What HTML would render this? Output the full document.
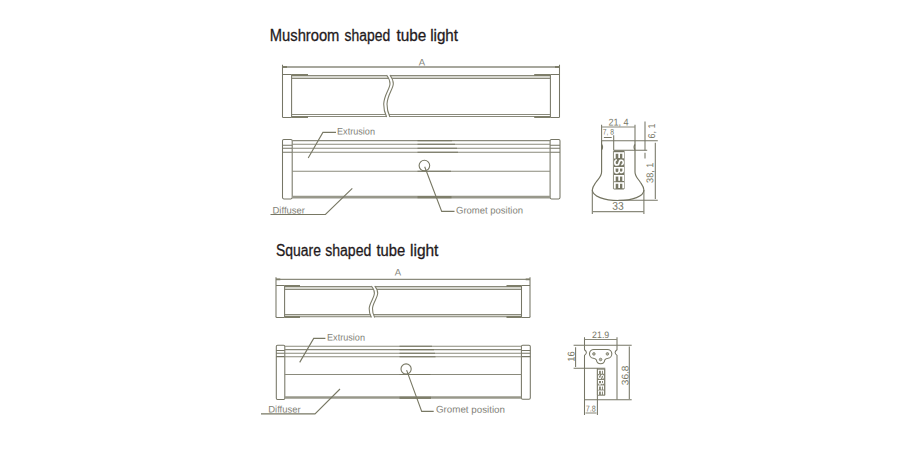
<!DOCTYPE html>
<html lang="en">
<head>
<meta charset="utf-8">
<title>Tube light dimensions</title>
<style>
  html, body { margin: 0; padding: 0; background: #ffffff; }
  body { width: 900px; height: 450px; overflow: hidden; }
  svg { display: block; }
  text { font-family: "Liberation Sans", sans-serif; }
  .title { font-size: 16px; fill: #1f1a1c; stroke: #1f1a1c; stroke-width: 0.3px; }
  .lbl { font-size: 9.5px; fill: #828278; }
  .dim { font-size: 9.8px; fill: #787868; }
  .dims { font-size: 8px; fill: #787868; }
  .ln { stroke: #767666; stroke-width: 1.05; fill: none; }
  .sh { stroke: #737360; stroke-width: 1.15; fill: none; }
  .bl { stroke: #8a8a7c; stroke-width: 1.05; fill: none; }
  .lt { stroke: #a3a392; stroke-width: 1; fill: none; }
  .tk { stroke: #7e7e6a; stroke-width: 1.4; fill: none; }
  .dk { stroke: #787864; stroke-width: 1.1; fill: none; }
  .logo { font-weight: bold; fill: #ffffff; }
  .lbg { fill: #777765; stroke: #777765; stroke-width: 0.5; stroke-linejoin: round; }
  .hole { fill: #b5b5a8; stroke: #7a7a66; stroke-width: 0.8; }
  .cv { stroke: #7d7d6a; stroke-width: 1.1; fill: none; }
  .bt { stroke: #98988b; stroke-width: 2.7; fill: none; }
  .fillb { fill: #d6d6ce; stroke: none; }
</style>
</head>
<body>
<svg width="900" height="450" viewBox="0 0 900 450">
  <defs><filter id="gs" filterUnits="userSpaceOnUse" x="580" y="100" width="80" height="320" color-interpolation-filters="sRGB"><feOffset dx="0" dy="0"/></filter></defs>
  <rect x="0" y="0" width="900" height="450" fill="#ffffff"/>

  <!-- ================= MUSHROOM ================= -->
  <text class="title" y="41.4"><tspan x="269.8" textLength="69.6" lengthAdjust="spacingAndGlyphs">Mushroom</tspan> <tspan x="344.6" textLength="45.6" lengthAdjust="spacingAndGlyphs">shaped</tspan> <tspan x="396.5" textLength="29.8" lengthAdjust="spacingAndGlyphs">tube</tspan> <tspan x="430.2" textLength="27.8" lengthAdjust="spacingAndGlyphs">light</tspan></text>

  <!-- top view -->
  <g id="m-top">
    <text transform="translate(422 65.6) rotate(0.05)" class="lbl" text-anchor="middle">A</text>
    <path class="bl" d="M282.5 67H559.5" style="stroke-width:1.4"/>
    <path class="ln" d="M282.5 64.8V117 M559.5 64.8V117"/>
    <path class="tk" d="M282.5 67H287 M559.5 67H555" style="stroke-width:1.8"/>
    <path class="fillb" d="M292 75.5H386.9L388.8 78.5H292Z M390.2 75.5H550V78.5H392.1Z"/>
    <path class="ln" d="M282.5 74.5H291.5 M550.5 74.5H559.5 M282.5 116.8 Q282.5 117.5 283.3 117.5 H291.5 M550.5 117.5H558.7Q559.5 117.5 559.5 116.8"/>
    <path class="ln" d="M291.6 74.5V117.5 M550.4 74.5V117.5"/>
    <path class="bl" d="M292 75.5H386.9 M292 78.5H388.8 M292 114.5H385.7 M292 116.5H386.4 M390.2 75.5H550 M392.1 78.5H550 M389 114.5H550 M389.7 116.5H550"/>
    <path class="tk" d="M291.5 75H308 M291.5 117H308 M534.2 75H550.5 M534.2 117H550.5" style="stroke-width:1.9"/>
    <path class="cv" d="M386.6 75 C388.4 77.5 390 80.5 390 83.7 C390 88.5 384 95 383.7 104 C383.6 109 385 113.5 386.6 117"/>
    <path class="cv" d="M389.9 75 C391.7 77.5 393.3 80.5 393.3 83.7 C393.3 88.5 387.3 95 387 104 C386.9 109 388.3 113.5 389.9 117"/>
  </g>

  <!-- front view -->
  <g id="m-front">
    <rect class="ln" x="282.5" y="139.4" width="9.7" height="59.5" rx="1.3"/>
    <rect class="ln" x="550.1" y="139.4" width="9.9" height="59.5" rx="1.3"/>
    <path class="ln" d="M282.5 145.3h9.7 M282.5 148.3h9.7 M282.5 152.2h9.7 M550.1 145.3h9.9 M550.1 148.3h9.9 M550.1 152.2h9.9"/>
    <path class="bl" d="M292.2 140.6H550.1 M292.2 144.3H550.1 M292.2 148.3H550.1 M292.2 152.2H550.1 M292.2 171.3H550.1"/>
    <path class="bt" d="M292.2 197.1H550.1"/>
    <path class="dk" d="M417.5 140.6H452 M417.5 144.3H455 M417.5 148.3H457 M417.5 152.2H458 M417.5 171.3H451"/>
    <path class="tk" d="M417.5 197.2H451.5" style="stroke-width:2.2"/>
    <circle class="dk" cx="424.4" cy="165.6" r="5.3"/>
    <path class="dk" d="M308.2 158 L322.9 132.4 H336"/>
    <text transform="translate(337 134.6) rotate(0.05)" class="lbl" textLength="38" lengthAdjust="spacingAndGlyphs">Extrusion</text>
    <path class="dk" d="M270.5 214.5 H325.4 L352.3 188.4"/>
    <text transform="translate(272.5 213.4) rotate(0.05)" class="lbl" textLength="32.5" lengthAdjust="spacingAndGlyphs">Diffuser</text>
    <path class="dk" d="M424.7 166.7 L441.7 211.4 H454.5"/>
    <text transform="translate(456 213.4) rotate(0.05)" class="lbl" textLength="67" lengthAdjust="spacingAndGlyphs">Gromet position</text>
  </g>

  <!-- cross section -->
  <g id="m-sec">
    <text transform="translate(608.4 125.5) rotate(0.05)" class="dim" textLength="20.3" lengthAdjust="spacingAndGlyphs">21, 4</text>
    <path class="ln" d="M601.6 124.7V141 M635 124.7V141"/>
    <path class="bl" d="M601.6 127H635"/>
    <text transform="translate(602.8 134.4) rotate(0.05)" class="dims" textLength="11.2" lengthAdjust="spacingAndGlyphs">7, 8</text>
    <path class="ln" d="M603.9 137.4H611.7 M613.7 135.3V150.3 M613.7 150.3H647.2"/>
    <path class="ln" d="M601.6 140.8H657.8"/>
    <path class="ln" d="M601.6 144.4 Q603.6 147.2 601.6 150 M635 144.4 Q633 147.2 635 150"/>
    <path class="sh" d="M601.6 141 V171.7 C601.6 176.5 598.2 178.8 596 182.2 C594.3 184.8 592.3 187 592.3 190 C592.3 193 595.5 195.8 600 197.6 C606 199.9 612 200.5 618.3 200.5 C624.6 200.5 630.5 199.9 636.5 197.6 C641 195.8 643.9 193 643.9 190 C643.9 187 642 184.8 640.3 182.2 C638.2 178.8 635 176.5 635 172 V141"/>
    <path class="ln" d="M592.3 190V214 M643.9 190V214"/>
    <path class="bl" d="M592.3 211.6H643.9" style="stroke-width:1.3"/>
    <path class="ln" d="M618.3 200.3H657.8"/>
    <path class="ln" d="M645 121.4V150.5 M645 152.8V158.6 M655.3 142.8V199"/>
    <text transform="translate(612.3 209.8) rotate(0.05)" class="dim" textLength="11.5" lengthAdjust="spacingAndGlyphs" style="font-size:11.2px">33</text>
    <text class="dim" transform="translate(655 138.6) rotate(-89.95)" textLength="15" lengthAdjust="spacingAndGlyphs">6, 1</text>
    <text class="dim" transform="translate(653.2 182.9) rotate(-89.95)" textLength="20.3" lengthAdjust="spacingAndGlyphs">38, 1</text>
    <g filter="url(#gs)"><rect class="lbg" x="613.4" y="150.8" width="10.9" height="38.4" rx="0.8"/><text class="logo" transform="translate(613.9 151.4) rotate(90)" textLength="37.6" lengthAdjust="spacingAndGlyphs" style="font-size:14px">ESBEE</text></g>
  </g>

  <!-- ================= SQUARE ================= -->
  <text class="title" y="256.4"><tspan x="276" textLength="44.9" lengthAdjust="spacingAndGlyphs">Square</tspan> <tspan x="325.2" textLength="46.1" lengthAdjust="spacingAndGlyphs">shaped</tspan> <tspan x="376.5" textLength="28.7" lengthAdjust="spacingAndGlyphs">tube</tspan> <tspan x="410" textLength="28.4" lengthAdjust="spacingAndGlyphs">light</tspan></text>

  <g id="s-top">
    <text transform="translate(398 275.6) rotate(0.05)" class="lbl" text-anchor="middle">A</text>
    <path class="bl" d="M276 279.4H530" style="stroke-width:1.3"/>
    <path class="ln" d="M276 277.2V317 M530 277.2V317"/>
    <path class="tk" d="M276 279.4H280.3 M530 279.4H525.7" style="stroke-width:1.8"/>
    <path class="fillb" d="M285 286.5H371.7L373.6 289.5H285Z M375 286.5H521V289.5H376.9Z M285 314.5H370.4L371.3 317H285Z M373.7 314.5H521V317H374.6Z"/>
    <path class="ln" d="M276 285.5H284.6 M521.5 285.5H530 M276 316.8 Q276 317.5 276.8 317.5 H284.6 M521.5 317.5H529.2Q530 317.5 530 316.8"/>
    <path class="ln" d="M284.6 285.5V317.5 M521.5 285.5V317.5"/>
    <path class="bl" d="M285 286.5H371.7 M285 289.5H373.6 M285 314.5H370.4 M285 316.8H371.2 M375 286.5H521 M376.9 289.5H521 M373.7 314.5H521 M374.5 316.8H521"/>
    <path class="tk" d="M284.6 286H300 M284.6 317H300 M506.5 286H521.5 M506.5 317H521.5" style="stroke-width:1.9"/>
    <path class="cv" d="M371.4 286 C373 288 374.6 290.5 374.4 293.5 C374.2 298 369.4 303 369.2 308.6 C369.1 312 370 315 371.4 317.5"/>
    <path class="cv" d="M374.7 286 C376.3 288 377.9 290.5 377.7 293.5 C377.5 298 372.7 303 372.5 308.6 C372.4 312 373.3 315 374.7 317.5"/>
  </g>

  <g id="s-front">
    <rect class="ln" x="276.3" y="345.2" width="8.5" height="54.2" rx="1.2"/>
    <rect class="ln" x="521.4" y="345.2" width="8.9" height="54.1" rx="1.3"/>
    <path class="ln" d="M276 350.5h8.7 M276 353.3h8.7 M276 356.6h8.7 M521.4 350.5h8.9 M521.4 353.3h8.9 M521.4 356.6h8.9"/>
    <path class="bl" d="M284.7 346.3H521.4 M284.7 349.6H521.4 M284.7 353.3H521.4 M284.7 356.8H521.4 M284.7 374.5H521.4"/>
    <path class="bt" d="M284.7 397.5H521.4"/>
    <path class="dk" d="M399.5 346.3H432 M399.5 349.6H434 M399.5 353.3H435 M399.5 356.8H435.5 M399.5 374.5H430.5"/>
    <path class="tk" d="M399.5 397.8H431" style="stroke-width:2.2"/>
    <circle class="dk" cx="406.1" cy="369" r="5.1"/>
    <path class="dk" d="M299.7 362.4 L313.7 338.4 H325.4"/>
    <text transform="translate(327 340.6) rotate(0.05)" class="lbl" textLength="38" lengthAdjust="spacingAndGlyphs">Extrusion</text>
    <path class="dk" d="M261 413.9 H315 L340 389"/>
    <text transform="translate(268.2 412.6) rotate(0.05)" class="lbl" textLength="32.5" lengthAdjust="spacingAndGlyphs">Diffuser</text>
    <path class="dk" d="M406.6 370.1 L421.7 411.4 H433.7"/>
    <text transform="translate(436 412.6) rotate(0.05)" class="lbl" textLength="69" lengthAdjust="spacingAndGlyphs">Gromet position</text>
  </g>

  <g id="s-sec">
    <text transform="translate(592.1 337.9) rotate(0.05)" class="dim" textLength="17.2" lengthAdjust="spacingAndGlyphs" style="font-size:9.3px">21.9</text>
    <path class="ln" d="M584.5 337.3V345.3 M617 337.3V345.3"/>
    <path class="bl" d="M584.5 339.4H617"/>
    <path class="ln" d="M573.6 345.3H631.7"/>
    <path class="ln" d="M584.5 345.3V349.8 Q588.3 352.5 584.5 355.3 V415 M617 345.3V349.8 Q613.2 352.5 617 355.3 V399.6"/>
    <path class="ln" d="M575.6 347.3V367 M573.6 368.2H605.3"/>
    <path class="ln" d="M629.3 346.4V399 M584.5 399.7H631.7"/>
    <path class="ln" d="M597.4 368.2V415"/>
    <path class="bl" d="M585.5 413H596.5"/>
    <path class="dk" d="M593.9 349.5 H607.4 A4.4 4.4 0 0 1 607.94 358.27 Q605.5 358.5 604.77 360 A4.2 4.2 0 0 1 596.43 360 Q595.7 358.5 593.36 358.27 A4.4 4.4 0 0 1 593.9 349.5 Z"/>
    <circle class="hole" cx="593.9" cy="353.9" r="1.3"/>
    <circle class="hole" cx="607.4" cy="353.9" r="1.3"/>
    <circle class="hole" cx="600.6" cy="359.5" r="1.3"/>
    <text class="dim" transform="translate(574.5 361.8) rotate(-89.95)" textLength="10.4" lengthAdjust="spacingAndGlyphs">16</text>
    <text class="dim" transform="translate(628.6 385.2) rotate(-89.95)" textLength="19.6" lengthAdjust="spacingAndGlyphs">36.8</text>
    <text transform="translate(585.8 411.4) rotate(0.05)" class="dims" textLength="10" lengthAdjust="spacingAndGlyphs" style="font-size:8.5px">7.8</text>
    <g filter="url(#gs)"><rect class="lbg" x="597.3" y="368.8" width="7.8" height="26.7" rx="0.6" style="fill:#838372;stroke:#838372"/><text class="logo" transform="translate(597.8 369.3) rotate(90)" textLength="25.8" lengthAdjust="spacingAndGlyphs" style="font-size:9.6px">ESBEE</text></g>
  </g>
</svg>
</body>
</html>
